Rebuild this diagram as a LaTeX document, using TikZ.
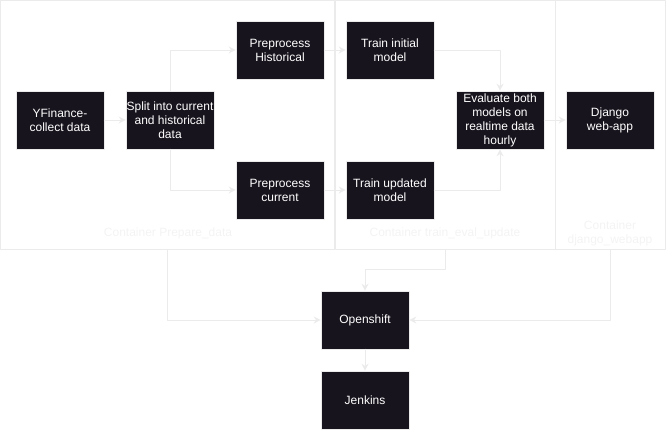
\documentclass[tikz,border=0pt]{standalone}
\usepackage{fontspec}
\setmainfont{Liberation Sans}
\usetikzlibrary{arrows.meta}
\definecolor{boxfill}{HTML}{18141D}
\definecolor{edgegray}{HTML}{EBEBEB}
\definecolor{labelgray}{HTML}{F3F3F3}

\begin{document}
\begin{tikzpicture}[x=1pt, y=-1pt, line cap=round, line join=round, >={Stealth[length=7pt,width=7pt]}]
  \tikzset{
    stage/.style={draw=edgegray, line width=0.6pt, fill=boxfill, text=white, minimum width=88pt, minimum height=58pt, align=center, inner sep=0pt, font=\fontsize{12}{14}\selectfont},
    container/.style={draw=edgegray, line width=0.8pt, inner sep=0pt},
    flow/.style={->, draw=edgegray, line width=1pt},
    tag/.style={text=labelgray, align=center, font=\fontsize{12}{14}\selectfont}
  }
  \useasboundingbox (0,0) rectangle (666,431);
  % containers
  \node (prep) [container, minimum width=334pt, minimum height=249pt] at (167.5,125) {};
  \node (train) [container, minimum width=220pt, minimum height=249pt] at (445,125) {};
  \node (webapp) [container, minimum width=110pt, minimum height=249pt] at (610,125) {};
  \node (preptag) [tag] at (168,233) {Container Prepare\_data};
  \node (traintag) [tag] at (445,233) {Container train\_eval\_update};
  \node (webtag) [tag] at (610,233) {Container\\django\_webapp};
  % stages
  \node (collect) [stage] at (60,120) {YFinance-\\collect data};
  \node (split) [stage] at (170,120) {Split into current\\and historical\\data};
  \node (prehist) [stage] at (280,50) {Preprocess\\Historical};
  \node (precur) [stage] at (280,190) {Preprocess\\current};
  \node (trinit) [stage] at (390,50) {Train initial\\model};
  \node (trupd) [stage] at (390,190) {Train updated\\model};
  \node (eval) [stage] at (500,120) {Evaluate both\\models on\\realtime data\\hourly};
  \node (django) [stage] at (610,120) {Django\\web-app};
  \node (openshift) [stage] at (365,320) {Openshift};
  \node (jenkins) [stage] at (365,400) {Jenkins};
  % flows
  \draw [flow] (collect) -- (split);
  \draw [flow] (split.north) |- (prehist.west);
  \draw [flow] (split.south) |- (precur.west);
  \draw [flow] (prehist) -- (trinit);
  \draw [flow] (precur) -- (trupd);
  \draw [flow] (trinit.east) -| (eval.north);
  \draw [flow] (trupd.east) -| (eval.south);
  \draw [flow] (eval) -- (django);
  \draw [flow] (prep.south) |- (openshift.west);
  \draw [flow] (train.south) -- ++(0,20) -| (openshift.north);
  \draw [flow] (webapp.south) |- (openshift.east);
  \draw [flow] (openshift) -- (jenkins);
\end{tikzpicture}
\end{document}
